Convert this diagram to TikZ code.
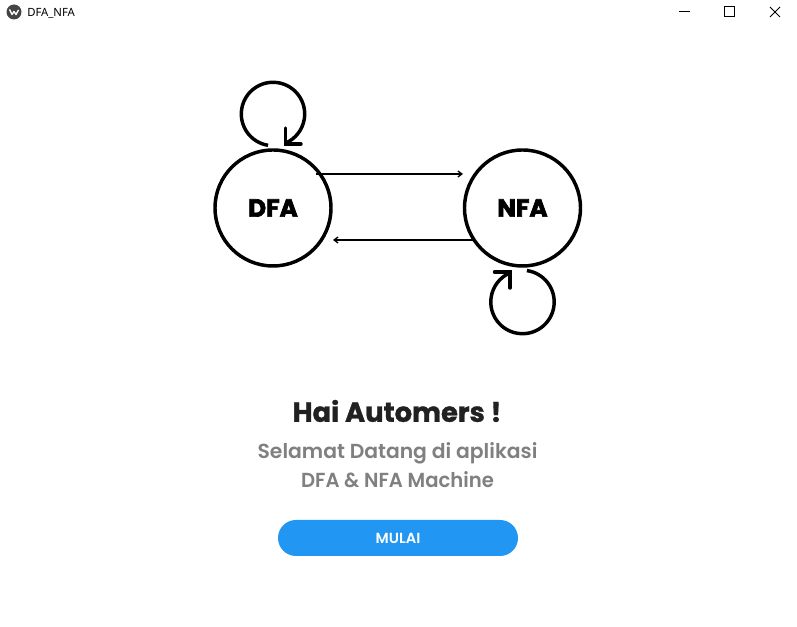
\documentclass[tikz,border=0pt]{standalone}
\usepackage{fontspec}
\setmainfont{Poppins}
\newfontfamily\popbold{Poppins}[BoldFeatures={FakeBold=1.2}]
\newfontfamily\popheavy{Poppins}[BoldFeatures={FakeBold=2.8}]
\newfontfamily\popsemi{Poppins SemiBold}
\newfontfamily\winfont{Noto Sans}
\usetikzlibrary{arrows.meta}
\definecolor{btnblue}{HTML}{2196F3}
\definecolor{subgrey}{HTML}{808080}
\definecolor{titledark}{HTML}{212121}
\definecolor{icondark}{HTML}{444444}
\tikzset{
  statecirc/.style={circle,draw=black,line width=2.6pt,minimum size=87pt,inner sep=0pt,fill=white},
  statetxt/.style={font=\popheavy\bfseries\fontsize{18.5}{22}\selectfont},
  loopline/.style={draw=black,line width=2.6pt},
  linkline/.style={draw=black,line width=1.25pt,-{Straight Barb[length=3pt,width=4.5pt,line width=1pt]}},
  winbtn/.style={draw=black,line width=0.75pt},
}
\begin{document}
\begin{tikzpicture}[x=0.75pt,y=0.75pt]
\useasboundingbox[fill=white] (0,0) rectangle (797,627);
% title bar
\fill[icondark] (14,615) circle[radius=7.5];
\draw[white,line width=1pt,line join=round] (9.5,617.5) -- (12,612.5) -- (14,615.5) -- (16,612.5) -- (18.5,617);
\node[anchor=west,inner sep=0pt,font=\winfont\fontsize{8.5}{11}\selectfont] (wintitle) at (27,613.5) {DFA\_NFA};
\draw[winbtn] (679,615) -- (690,615);
\draw[winbtn] (724.5,610) rectangle (734,620);
\draw[winbtn] (770,620) -- (780,610) (770,610) -- (780,620);
% states
\node[statecirc] (dfa) at (273,419) {};
\node[statecirc] (nfa) at (522.5,419) {};
\node[statetxt] (dfalabel) at (273,419) {DFA};
\node[statetxt] (nfalabel) at (522.5,419) {NFA};
% links
\coordinate (dfaout) at (316,453);
\coordinate (nfain) at (463,453);
\coordinate (nfaout) at (474,387);
\coordinate (dfain) at (333,387);
\draw[linkline] (dfaout) -- (nfain);
\draw[linkline] (nfaout) -- (dfain);
% self loops
\path[loopline] (273,513) ++(261:31.7) arc[start angle=261,end angle=-67,radius=31.7];
\path[loopline,line cap=round] (285.5,499) -- (285.5,483) -- (301,483);
\path[loopline] (522.5,325) ++(82:31.7) arc[start angle=82,end angle=-247,radius=31.7];
\path[loopline,line cap=round] (494.5,355) -- (510,355) -- (510,339);
% texts
\node[font=\popbold\bfseries\fontsize{20.5}{24}\selectfont,text=titledark] (hello) at (397,216) {Hai Automers !};
\node[font=\popsemi\fontsize{15.25}{20}\selectfont,text=subgrey] (sub1) at (397.5,173.5) {Selamat Datang di aplikasi};
\node[font=\popsemi\fontsize{15.25}{20}\selectfont,text=subgrey,transform shape,xscale=0.965] (sub2) at (397.5,147) {DFA \& NFA Machine};
\node[fill=btnblue,rounded corners=13.5pt,minimum width=180pt,minimum height=27pt,inner sep=0pt,text=white,font=\popsemi\fontsize{11}{13}\selectfont] (start) at (398,89) {MULAI};
\end{tikzpicture}
\end{document}
